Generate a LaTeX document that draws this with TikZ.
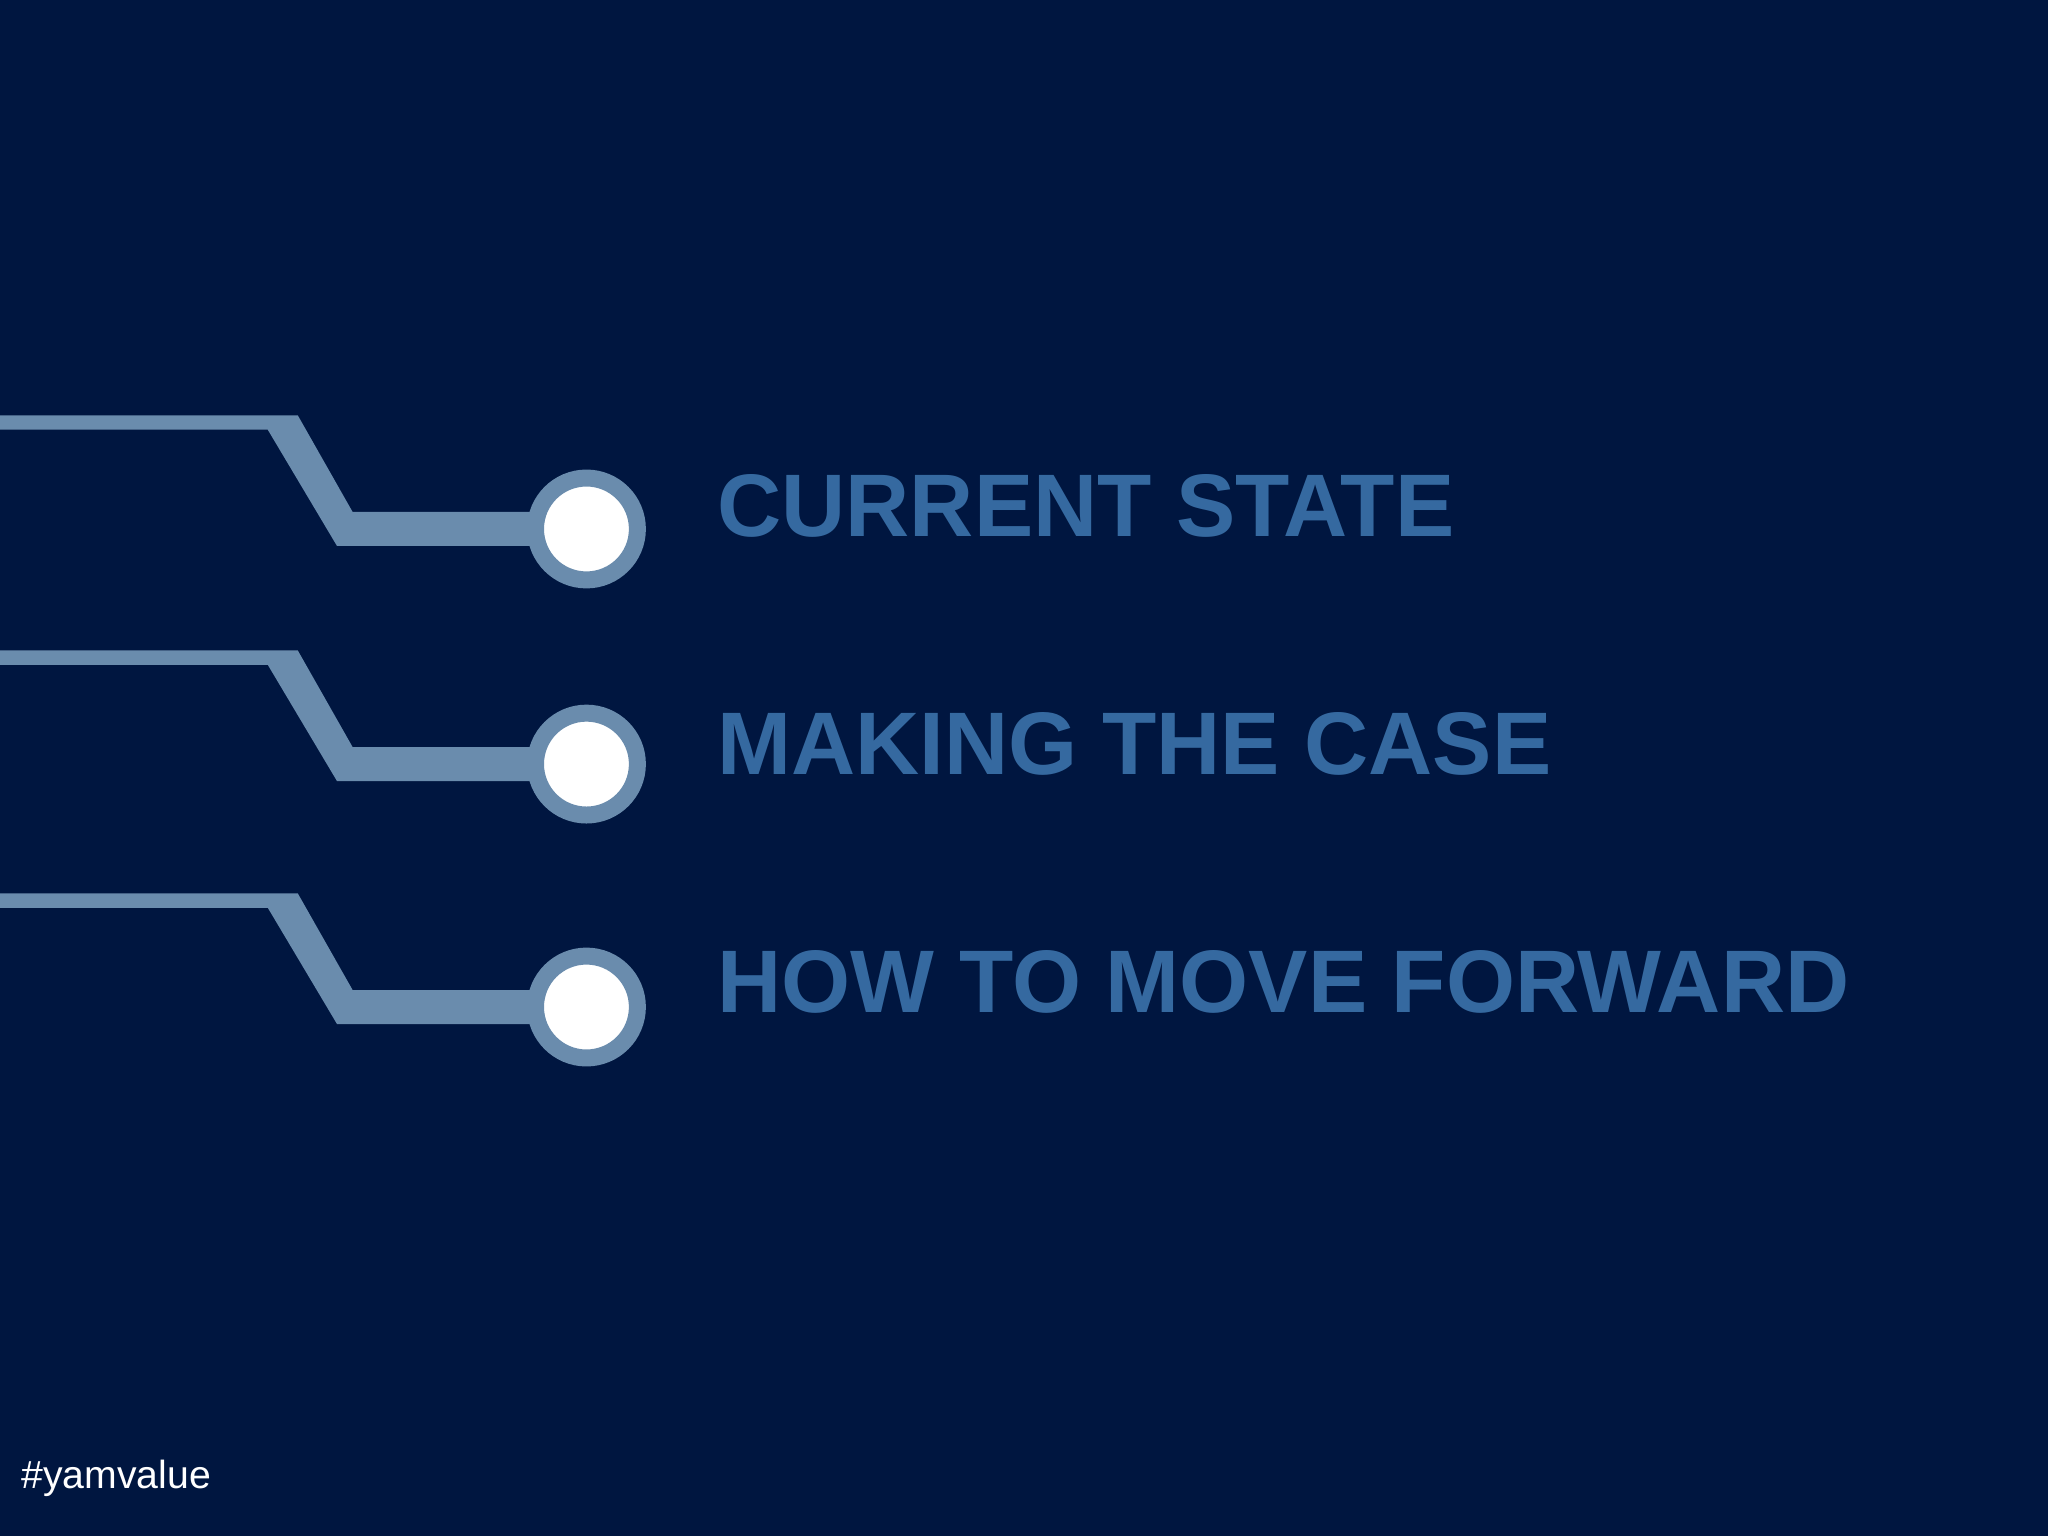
\documentclass[tikz,border=0pt]{standalone}
\usepackage{fontspec}
\setmainfont{Liberation Sans}
\definecolor{bg}{HTML}{001640}
\definecolor{trace}{HTML}{6A8CAD}
\definecolor{ttl}{HTML}{3569A0}
\begin{document}
\begin{tikzpicture}[x=0.5pt,y=-0.5pt,
  title/.style={anchor=base west,inner sep=0,text=ttl,font=\fontsize{34}{40}\selectfont\bfseries},
  ring/.style={circle,fill=white,draw=trace,line width=6.5pt,minimum size=78*0.5pt,inner sep=0}]
\fill[bg] (0,0) rectangle (1568,1176);
\useasboundingbox (0,0) rectangle (1568,1176);
\foreach \n/\cy/\ty/\lbl in {a/405/411/CURRENT STATE, b/585/593/MAKING THE CASE, c/771/775/HOW TO MOVE FORWARD}{
  \pgfmathsetmacro{\t}{\cy-87}
  \fill[trace] (0,\t) -- (228,\t) -- (270,\cy-13) -- (420,\cy-13) -- (420,\cy+13) -- (258,\cy+13) -- (205,\t+11) -- (0,\t+11) -- cycle;
  \node[ring] (\n) at (449,\cy) {};
  \node[title] (t\n) at (549,\ty) {\lbl};
}
\node[anchor=base west,inner sep=0,text=white,font=\fontsize{15}{18}\selectfont] (tag) at (16,1140) {\#yamvalue};
\end{tikzpicture}
\end{document}
